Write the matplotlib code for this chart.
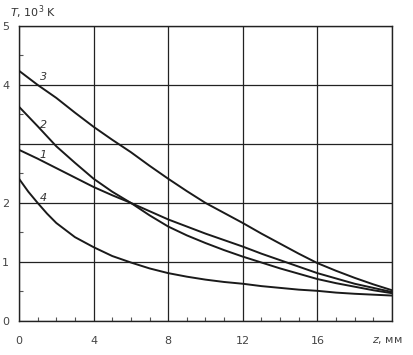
import matplotlib.pyplot as plt
from matplotlib.ticker import MultipleLocator

# z, мм  ->  T, 10^3 K
z1 = [0, 1, 2, 3, 4, 5, 6, 7, 8, 9, 10, 11, 12, 13, 14, 15, 16, 17, 18, 19, 20]
t1 = [2.90, 2.75, 2.59, 2.43, 2.27, 2.13, 2.00, 1.86, 1.72, 1.60, 1.48,
      1.37, 1.26, 1.14, 1.03, 0.92, 0.81, 0.72, 0.63, 0.56, 0.49]

z2 = [0, 1, 2, 3, 4, 5, 6, 7, 8, 9, 10, 11, 12, 13, 14, 15, 16, 17, 18, 19, 20]
t2 = [3.63, 3.30, 2.96, 2.68, 2.41, 2.19, 2.00, 1.79, 1.60, 1.45, 1.32,
      1.20, 1.09, 0.99, 0.89, 0.80, 0.71, 0.64, 0.58, 0.52, 0.47]

z3 = [0, 1, 2, 3, 4, 5, 6, 7, 8, 9, 10, 11, 12, 13, 14, 15, 16, 17, 18, 19, 20]
t3 = [4.24, 4.00, 3.78, 3.53, 3.29, 3.07, 2.86, 2.63, 2.41, 2.20, 2.00,
      1.83, 1.66, 1.48, 1.31, 1.14, 0.98, 0.85, 0.73, 0.62, 0.52]

z4 = [0, 0.5, 1, 1.5, 2, 3, 4, 5, 6, 7, 8, 9, 10, 11, 12, 13, 14, 15, 16, 17, 18, 19, 20]
t4 = [2.41, 2.19, 2.00, 1.82, 1.66, 1.42, 1.25, 1.10, 0.99, 0.89, 0.81, 0.75,
      0.70, 0.66, 0.63, 0.59, 0.56, 0.53, 0.51, 0.48, 0.46, 0.445, 0.43]

curve_names = ['1', '2', '3', '4']
label_pos = [(1.29, 2.82), (1.34, 3.32), (1.29, 4.14), (1.30, 2.09)]

x_ticks = [0, 4, 8, 12, 16, 20]
x_ticklabels = ['0', '4', '8', '12', '16', '']
y_ticks = [0, 1, 2, 3, 4, 5]
y_ticklabels = ['0', '1', '2', '', '4', '5']

fig = plt.figure(figsize=(4.13, 3.55), dpi=100)
ax = fig.add_axes([0.046, 0.096, 0.903, 0.831])

for z, t in [(z1, t1), (z2, t2), (z3, t3), (z4, t4)]:
    ax.plot(z, t, color='#1a1a1a', lw=1.4, zorder=3, solid_joinstyle='round')

for name, (x, y) in zip(curve_names, label_pos):
    ax.text(x, y, name, fontsize=8, style='italic', color='#333333',
            ha='center', va='center')

ax.set_xlim(0, 20)
ax.set_ylim(0, 5)
ax.set_xticks(x_ticks)
ax.set_xticklabels(x_ticklabels)
ax.set_yticks(y_ticks)
ax.set_yticklabels(y_ticklabels)
ax.xaxis.set_minor_locator(MultipleLocator(1))
ax.yaxis.set_minor_locator(MultipleLocator(0.5))
ax.tick_params(which='major', length=0, labelsize=8, labelcolor='#444444')
ax.tick_params(axis='x', which='major', pad=11)
ax.tick_params(axis='y', which='major', pad=7)
ax.tick_params(which='minor', direction='in', length=3, width=0.8, color='#555555')
ax.grid(True, which='major', color='#222222', lw=0.9)

for s in ax.spines.values():
    s.set_linewidth(1.0)
    s.set_color('#222222')

# axis titles
fig.text(0.024, 0.965, '$T$, 10$^3$ K', fontsize=8, color='#333333',
         ha='left', va='center')
fig.text(0.975, 0.042, '$z$, мм', fontsize=8, color='#444444',
         ha='right', va='center')

fig.savefig('out.png', dpi=100)
